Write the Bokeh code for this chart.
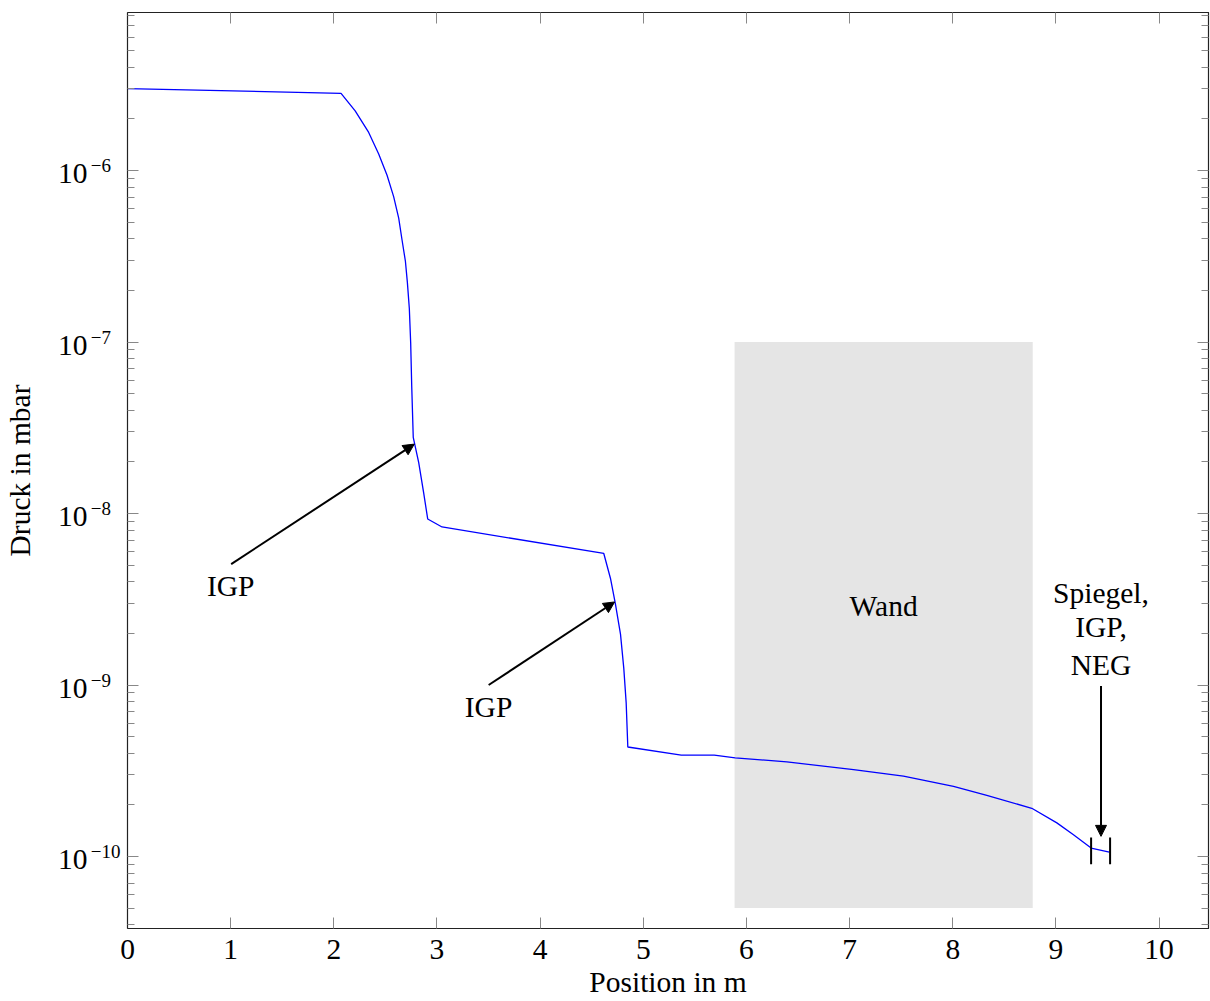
from bokeh.plotting import figure
from bokeh.models import (Range1d, LinearAxis, LogAxis, FixedTicker,
                          CustomJSTickFormatter, Arrow, NormalHead)
from bokeh.core.properties import value
from bokeh.embed import file_html
from bokeh.resources import INLINE

# Pressure profile along the beamline
position_m = [0.0, 2.07, 2.207, 2.338, 2.435, 2.516, 2.580, 2.629, 2.661, 2.694,
              2.713, 2.732, 2.745, 2.755, 2.770, 2.823, 2.871, 2.910, 3.049, 4.617,
              4.682, 4.730, 4.779, 4.811, 4.834, 4.850, 5.368, 5.688, 5.891, 6.392,
              7.038, 7.522, 8.007, 8.330, 8.766, 9.009, 9.170, 9.341, 9.518]
pressure_mbar = [3.01e-6, 2.82e-6, 2.23e-6, 1.67e-6, 1.25e-6, 9.39e-7, 7.05e-7, 5.28e-7,
                 3.95e-7, 2.96e-7, 2.23e-7, 1.57e-7, 9.93e-8, 5.58e-8, 2.78e-8, 1.98e-8,
                 1.32e-8, 9.30e-9, 8.35e-9, 5.85e-9, 4.18e-9, 2.96e-9, 1.98e-9, 1.25e-9,
                 7.87e-10, 4.35e-10, 3.90e-10, 3.90e-10, 3.76e-10, 3.56e-10, 3.21e-10,
                 2.94e-10, 2.56e-10, 2.27e-10, 1.91e-10, 1.57e-10, 1.34e-10, 1.12e-10,
                 1.06e-10]

# Wall section (shaded band)
wall_x = [5.885, 8.775]
wall_p = [5e-11, 1e-7]
wall_label = ["Wand"]
wall_label_x = [7.33]
wall_label_p = [2.89e-9]

# Pump annotations: arrow start/end and text
igp_label = ["IGP", "IGP"]
igp_label_x = [1.0, 3.50]
igp_label_p = [3.77e-9, 7.4e-10]
igp_arrow_x0 = [1.005, 3.501]
igp_arrow_p0 = [5.07e-9, 1.0e-9]
igp_arrow_x1 = [2.780, 4.722]
igp_arrow_p1 = [2.54e-8, 3.05e-9]

# Mirror / IGP / NEG chamber at the end
end_lines = ["Spiegel,", "IGP,", "NEG"]
end_label_x = [9.437, 9.437, 9.437]
end_label_p = [3.45e-9, 2.18e-9, 1.31e-9]
end_arrow_x = [9.437, 9.437]
end_arrow_p = [9.86e-10, 1.31e-10]
end_bar_x = [9.341, 9.525]
end_bar_p = [1.29e-10, 9.0e-11]

x_ticks = list(range(11))
y_ticks = [1e-10, 1e-9, 1e-8, 1e-7, 1e-6]
y_tick_base = "10"
# single-digit exponents get a figure space so they sit against the "10"
y_tick_exp = ["−10", "−9\u2007", "−8\u2007", "−7\u2007", "−6\u2007"]
y_minor = [k * 10.0 ** e for e in range(-11, -5) for k in range(2, 10)]

FONT = "Liberation Serif"
FS = "29.5px"
SUP_FS = "19px"
PX_PER_DECADE = 171.35

p = figure(width=1210, height=1000, y_axis_type="log",
           x_range=Range1d(0, 10.479), y_range=Range1d(10 ** -10.42, 10 ** -5.078),
           output_backend="svg", toolbar_location=None,
           min_border_left=127, min_border_right=2, min_border_top=12,
           min_border_bottom=72, background_fill_color="white",
           border_fill_color="white")
p.grid.visible = False
p.outline_line_color = "#222222"
p.outline_line_width = 1.2

blank = CustomJSTickFormatter(code="return '';")
exp_fmt = CustomJSTickFormatter(args=dict(tick_vals=y_ticks, tick_texts=y_tick_exp), code="""
    const i = tick_vals.findIndex(t => Math.abs(Math.log10(t) - Math.log10(tick)) < 0.1);
    return i >= 0 ? tick_texts[i] : "";
""")
base_fmt = CustomJSTickFormatter(args=dict(base=y_tick_base), code="return base;")


def style_axis(ax, label_size):
    ax.axis_line_color = "#222222"
    ax.major_tick_line_color = "#888888"
    ax.minor_tick_line_color = "#888888"
    ax.major_tick_in = 11
    ax.major_tick_out = 0
    ax.minor_tick_in = 7
    ax.minor_tick_out = 0
    ax.major_label_text_font = FONT
    ax.major_label_text_font_size = label_size
    ax.major_label_text_color = "black"
    ax.axis_label_text_font = FONT
    ax.axis_label_text_font_size = FS
    ax.axis_label_text_font_style = "normal"
    ax.axis_label_text_color = "black"


def label_only(ax):
    ax.axis_line_color = None
    ax.major_tick_line_color = None
    ax.minor_tick_line_color = None
    ax.major_tick_in = 0
    ax.minor_tick_in = 0


# bottom axis
xa = p.xaxis[0]
xa.ticker = FixedTicker(ticks=x_ticks, minor_ticks=[])
xa.axis_label = "Position in m"
style_axis(xa, FS)
xa.major_label_standoff = 11
xa.axis_label_standoff = 4

# left axis: tick marks only
ya = p.yaxis[0]
ya.ticker = FixedTicker(ticks=y_ticks, minor_ticks=y_minor)
ya.formatter = blank
style_axis(ya, "0px")
ya.major_label_standoff = 0

# exponents, set a little above each decade tick
ye = LogAxis(ticker=FixedTicker(ticks=[t * 10 ** (5 / PX_PER_DECADE) for t in y_ticks],
                                minor_ticks=[]), formatter=exp_fmt)
style_axis(ye, SUP_FS)
label_only(ye)
ye.major_label_standoff = 7
p.add_layout(ye, "left")

# the "10" of each decade label, plus the axis title
yb = LogAxis(ticker=FixedTicker(ticks=[t * 10 ** (-3 / PX_PER_DECADE) for t in y_ticks],
                                minor_ticks=[]), formatter=base_fmt,
             axis_label="Druck in mbar")
style_axis(yb, FS)
label_only(yb)
yb.major_label_standoff = 0
yb.axis_label_standoff = 19
p.add_layout(yb, "left")

# mirrored axes on top and right (ticks only)
top = LinearAxis(ticker=FixedTicker(ticks=x_ticks, minor_ticks=[]), formatter=blank)
style_axis(top, "0px")
top.major_label_standoff = 0
p.add_layout(top, "above")

right = LogAxis(ticker=FixedTicker(ticks=y_ticks, minor_ticks=y_minor), formatter=blank)
style_axis(right, "0px")
right.major_label_standoff = 0
p.add_layout(right, "right")

# wall band
p.quad(left=[wall_x[0]], right=[wall_x[1]], bottom=[wall_p[0]], top=[wall_p[1]],
       fill_color="#e5e5e5", line_color=None)
p.text(x=wall_label_x, y=wall_label_p, text=wall_label, text_font=value(FONT),
       text_font_size=FS, text_align="center", text_baseline="middle", text_color="black")

# pressure curve
p.line(position_m, pressure_mbar, line_color="#0000ff", line_width=1.3)

# IGP arrows
for i in range(len(igp_label)):
    p.add_layout(Arrow(x_start=igp_arrow_x0[i], y_start=igp_arrow_p0[i],
                       x_end=igp_arrow_x1[i], y_end=igp_arrow_p1[i],
                       line_color="black", line_width=2,
                       end=NormalHead(size=11, fill_color="black", line_color="black",
                                      line_width=1)))
p.text(x=igp_label_x, y=igp_label_p, text=igp_label, text_font=value(FONT),
       text_font_size=FS, text_align="center", text_baseline="middle", text_color="black")

# end chamber marker
p.text(x=end_label_x, y=end_label_p, text=end_lines, text_font=value(FONT),
       text_font_size=FS, text_align="center", text_baseline="middle", text_color="black")
p.add_layout(Arrow(x_start=end_arrow_x[0], y_start=end_arrow_p[0],
                   x_end=end_arrow_x[1], y_end=end_arrow_p[1],
                   line_color="black", line_width=2,
                   end=NormalHead(size=11, fill_color="black", line_color="black",
                                  line_width=1)))
p.segment(x0=end_bar_x, y0=[end_bar_p[0]] * 2, x1=end_bar_x, y1=[end_bar_p[1]] * 2,
          line_color="black", line_width=2)

open("out.html", "w").write(file_html(p, INLINE))
